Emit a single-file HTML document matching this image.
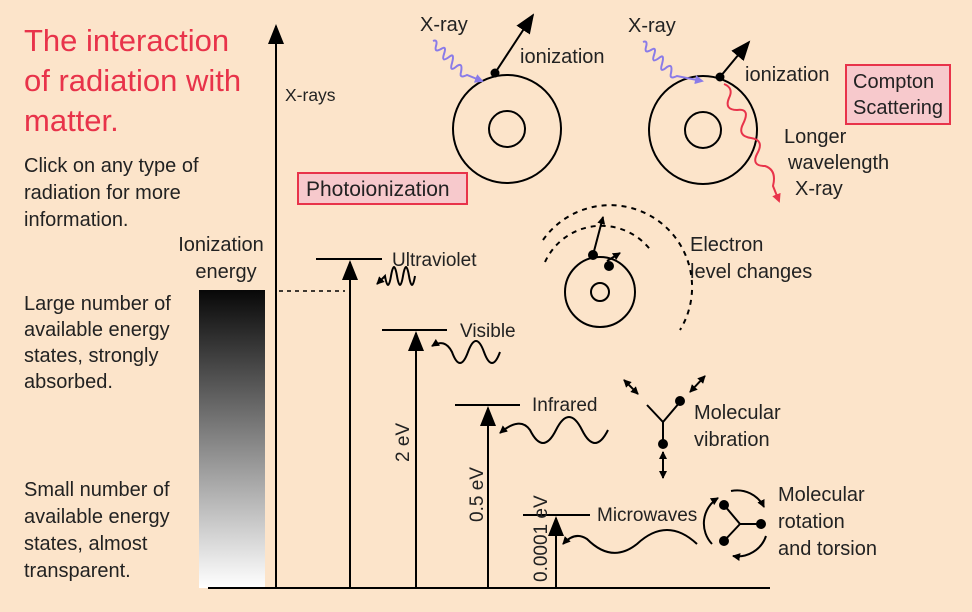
<!DOCTYPE html>
<html><head><meta charset="utf-8"><style>
html,body{margin:0;padding:0;background:#fce4ca}
svg{display:block;font-family:"Liberation Sans",sans-serif}
</style></head><body>
<svg width="972" height="612" viewBox="0 0 972 612">
<defs>
<linearGradient id="g" x1="0" y1="0" x2="0" y2="1"><stop offset="0" stop-color="#080808"/><stop offset="1" stop-color="#ffffff"/></linearGradient>
<marker id="bh" markerWidth="20" markerHeight="16" refX="18" refY="8" orient="auto" markerUnits="userSpaceOnUse"><path d="M0,0 L20,8 L0,16 z" fill="#000"/></marker>
<marker id="sh" markerWidth="8" markerHeight="8" refX="7" refY="4" orient="auto" markerUnits="userSpaceOnUse"><path d="M0,0 L8,4 L0,8 z" fill="#000"/></marker>
<marker id="ss" markerWidth="8" markerHeight="8" refX="1" refY="4" orient="auto" markerUnits="userSpaceOnUse"><path d="M8,0 L0,4 L8,8 z" fill="#000"/></marker>
<marker id="ph" markerWidth="9" markerHeight="9" refX="7" refY="4.5" orient="auto" markerUnits="userSpaceOnUse"><path d="M0,0 L9,4.5 L0,9 z" fill="#8a7be8"/></marker>
<marker id="rh" markerWidth="9" markerHeight="9" refX="7" refY="4.5" orient="auto" markerUnits="userSpaceOnUse"><path d="M0,0 L9,4.5 L0,9 z" fill="#e8334a"/></marker>
</defs>
<rect width="972" height="612" fill="#fce4ca"/>
<g fill="#e8334a" font-size="31">
<text x="24" y="51">The interaction</text><text x="24" y="91">of radiation with</text><text x="24" y="131">matter.</text></g>
<g font-size="20" fill="#222">
<text x="24" y="172">Click on any type of</text><text x="24" y="199">radiation for more</text><text x="24" y="226">information.</text></g>
<g font-size="20" fill="#222" text-anchor="middle"><text x="221" y="251">Ionization</text><text x="226" y="278">energy</text></g>
<g font-size="20" fill="#222"><text x="24" y="310">Large number of</text><text x="24" y="336">available energy</text><text x="24" y="362">states, strongly</text><text x="24" y="388">absorbed.</text></g>
<g font-size="20" fill="#222"><text x="24" y="496">Small number of</text><text x="24" y="523">available energy</text><text x="24" y="550">states, almost</text><text x="24" y="577">transparent.</text></g>
<rect x="199" y="290" width="66" height="298" fill="url(#g)"/>
<g stroke="#000" stroke-width="2" fill="none">
<line x1="208" y1="588" x2="770" y2="588"/>
<line x1="276" y1="588" x2="276" y2="26" marker-end="url(#bh)"/>
<line x1="279" y1="291" x2="345" y2="291" stroke-dasharray="4,4" stroke-width="1.5"/>
<line x1="316" y1="259" x2="382" y2="259"/>
<line x1="350" y1="588" x2="350" y2="262" marker-end="url(#bh)"/>
<path d="M415,276 q-3,18 -6,0 q-3,-18 -6,0 q-3,18 -6,0 q-3,-18 -6,0 q-3,18 -6,0 l-8,8" marker-end="url(#sh)"/>
<line x1="382" y1="330" x2="447" y2="330"/>
<line x1="416" y1="588" x2="416" y2="333" marker-end="url(#bh)"/>
<path d="M500,352 q-8,22 -16,0 q-8,-22 -16,0 q-8,22 -16,0 q-7,-14 -20,-6" marker-end="url(#sh)"/>
<line x1="455" y1="405" x2="520" y2="405"/>
<line x1="488" y1="588" x2="488" y2="408" marker-end="url(#bh)"/>
<path d="M608,430 q-13,26 -26,0 q-13,-26 -26,0 q-13,26 -26,0 q-10,-14 -30,3" marker-end="url(#sh)"/>
<line x1="523" y1="515" x2="590" y2="515"/>
<line x1="556" y1="588" x2="556" y2="518" marker-end="url(#bh)"/>
<path d="M697,544 q-30,-28 -60,0 q-25,20 -50,-5 q-12,-8 -24,5" marker-end="url(#sh)"/>
</g>
<g font-size="19" fill="#222">
<text x="285" y="101" font-size="17.5">X-rays</text>
<text x="392" y="266">Ultraviolet</text>
<text x="460" y="337">Visible</text>
<text x="532" y="411">Infrared</text>
<text x="597" y="521">Microwaves</text>
<text transform="translate(409,462) rotate(-90)">2 eV</text>
<text transform="translate(483,522) rotate(-90)">0.5 eV</text>
<text transform="translate(547,582) rotate(-90)">0.0001 eV</text>
</g>
<g><rect x="298" y="173" width="169" height="31" fill="#f7c9cc" stroke="#e8334a" stroke-width="2"/><text x="306" y="196" font-size="21" fill="#222">Photoionization</text></g>
<g><rect x="846" y="65" width="104" height="59" fill="#f7c9cc" stroke="#e8334a" stroke-width="2"/><text x="853" y="88" font-size="20" fill="#222">Compton</text><text x="853" y="114" font-size="20" fill="#222">Scattering</text></g>
<g stroke="#000" stroke-width="2" fill="none">
<circle cx="507" cy="129" r="54"/><circle cx="507" cy="129" r="18"/>
<path d="M433,41 q5,-2 3,5 q-2,7 5,3 q6,-4 3,5 q-3,9 5,3 q6,-5 3,6 q-3,10 5,3 q6,-4 4,6 q-2,7 6,3 l15,6" stroke="#8a7be8" marker-end="url(#ph)"/>
<line x1="495" y1="73" x2="533" y2="15" marker-end="url(#bh)"/><circle cx="495" cy="73" r="3.5" fill="#000"/>
</g>
<g stroke="#000" stroke-width="2" fill="none">
<circle cx="703" cy="130" r="54"/><circle cx="703" cy="130" r="18"/>
<path d="M643,42 q5,-2 3,5 q-2,7 5,3 q6,-4 3,5 q-3,9 5,3 q6,-5 3,6 q-3,10 5,3 q6,-4 4,6 q-2,7 6,3 l25,5" stroke="#8a7be8" marker-end="url(#ph)"/>
<line x1="720" y1="77" x2="749" y2="42" marker-end="url(#bh)"/><circle cx="720" cy="77" r="3.5" fill="#000"/>
<path d="M724,84 q10,4 5,14 q-5,12 8,12 q14,-2 6,14 q-6,12 8,14 q14,2 6,16 q-6,12 8,12 q12,4 8,20 l6,15" stroke="#e8334a" marker-end="url(#rh)"/>
</g>
<g font-size="20" fill="#222">
<text x="420" y="31">X-ray</text><text x="520" y="63">ionization</text>
<text x="628" y="32">X-ray</text><text x="745" y="81">ionization</text>
<text x="784" y="143">Longer</text><text x="788" y="169">wavelength</text><text x="795" y="195">X-ray</text>
<text x="690" y="251">Electron</text><text x="690" y="278">level changes</text>
<text x="694" y="419">Molecular</text><text x="694" y="446">vibration</text>
<text x="778" y="501">Molecular</text><text x="778" y="528">rotation</text><text x="778" y="555">and torsion</text>
</g>
<g stroke="#000" stroke-width="2" fill="none">
<circle cx="600" cy="292" r="35"/><circle cx="600" cy="292" r="9"/>
<path d="M545,262 A62,62 0 0 1 652,252" stroke-dasharray="5,5"/>
<path d="M543,240 A82,82 0 0 1 680,330" stroke-dasharray="5,5"/>
<line x1="593" y1="255" x2="603" y2="217" marker-end="url(#sh)"/>
<line x1="607" y1="261" x2="620" y2="253" marker-end="url(#sh)"/>
<circle cx="593" cy="255" r="4" fill="#000"/><circle cx="609" cy="266" r="4" fill="#000"/>
</g>
<g stroke="#000" stroke-width="2" fill="none">
<path d="M647,405 L663,422 L680,402 M663,422 L663,444"/>
<circle cx="680" cy="401" r="4" fill="#000"/><circle cx="663" cy="444" r="4" fill="#000"/>
<line x1="624" y1="380" x2="638" y2="394" marker-start="url(#ss)" marker-end="url(#sh)"/>
<line x1="705" y1="376" x2="690" y2="392" marker-start="url(#ss)" marker-end="url(#sh)"/>
<line x1="663" y1="452" x2="663" y2="478" marker-start="url(#ss)" marker-end="url(#sh)"/>
</g>
<g stroke="#000" stroke-width="2" fill="none">
<path d="M724,505 L740,524 L761,524 M740,524 L724,541"/>
<circle cx="724" cy="505" r="4" fill="#000"/><circle cx="761" cy="524" r="4" fill="#000"/><circle cx="724" cy="541" r="4" fill="#000"/>
<path d="M712,544 A30,30 0 0 1 718,498" marker-end="url(#sh)"/>
<path d="M731,491 A30,30 0 0 1 764,507" marker-end="url(#sh)"/>
<path d="M766,536 A30,30 0 0 1 733,556" marker-end="url(#sh)"/>
</g>
</svg>
</body></html>
